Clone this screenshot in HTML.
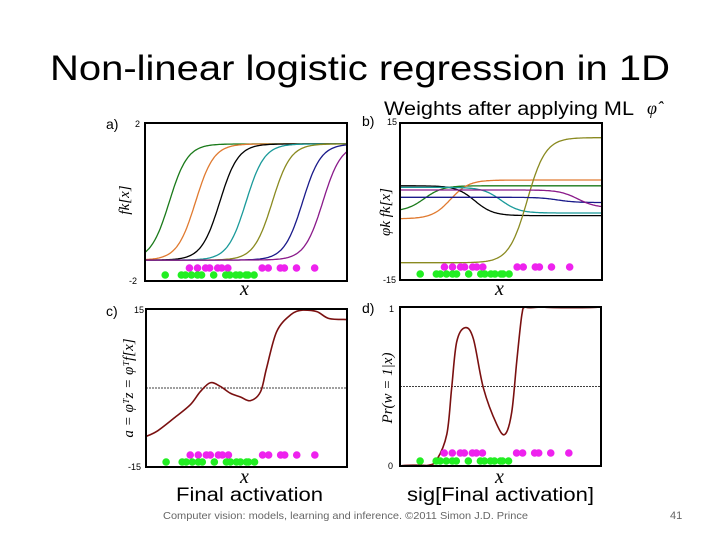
<!DOCTYPE html>
<html><head><meta charset="utf-8">
<style>
body{margin:0;background:#fff;}
svg{display:block;}
.t{font-family:"Liberation Sans",sans-serif;}
.m{font-family:"Liberation Serif",serif;font-style:italic;}
</style></head>
<body>
<svg id="s" width="720" height="540" viewBox="0 0 720 540" xmlns="http://www.w3.org/2000/svg">
<text class="t" x="360" y="80" font-size="35" text-anchor="middle" textLength="620" lengthAdjust="spacingAndGlyphs">Non-linear logistic regression in 1D</text>
<text class="t" x="384" y="115" font-size="19" textLength="250" lengthAdjust="spacingAndGlyphs">Weights after applying ML</text>
<text class="m" x="647" y="114" font-size="18">φ̂</text>
<text class="t" x="176" y="501" font-size="19" textLength="147" lengthAdjust="spacingAndGlyphs">Final activation</text>
<text class="t" x="407" y="501" font-size="19" textLength="187" lengthAdjust="spacingAndGlyphs">sig[Final activation]</text>
<text class="t" x="163" y="519" font-size="10.5" fill="#666" textLength="365" lengthAdjust="spacingAndGlyphs">Computer vision: models, learning and inference. ©2011 Simon J.D. Prince</text>
<text class="t" x="670" y="519" font-size="11" fill="#666">41</text>
<g id="plots"></g>
</svg>
<script>
// data points (x in 0..1 units)
const magentaX=[0.22,0.26,0.30,0.32,0.36,0.38,0.41,0.58,0.61,0.67,0.69,0.75,0.84];
const greenX=[0.10,0.18,0.20,0.23,0.26,0.28,0.34,0.40,0.42,0.45,0.47,0.50,0.51,0.54];
// panel a: basis function centers and colors
const basisCenters=[0.12,0.25,0.37,0.50,0.63,0.78,0.88];
const basisColors=['#1a7a1a','#e07a30','#000000','#1a9a9a','#8a8a20','#1a1a8a','#8a1a8a'];
// panel b: weighted basis (left value, right value, center)
const bLeft=[-1.9,-3.3,3.0,2.7,-11.7,0.8,2.2];
const bRight=[3.0,4.1,-2.7,-2.2,12.2,-0.2,-1.2];
const bCenters=[0.12,0.25,0.37,0.50,0.63,0.78,0.88];
// panel c: activation
const cX=[0,0.055,0.14,0.22,0.27,0.32,0.37,0.42,0.47,0.52,0.57,0.60,0.65,0.72,0.78,0.85,0.91,1];
const cY=[-9.2,-8.2,-5.7,-3.2,-0.7,1.0,0.3,-1.0,-1.7,-2.4,-0.7,3.8,10.7,13.9,14.8,14.5,13.2,13.0];
// panel d: probability
const dX=[0,0.133,0.183,0.233,0.257,0.282,0.324,0.365,0.415,0.482,0.523,0.556,0.581,0.606,0.623,0.7,1];
const dY=[0,0.003,0.04,0.2,0.49,0.78,0.87,0.8,0.49,0.26,0.2,0.34,0.66,0.95,1,1,1];

const NS='http://www.w3.org/2000/svg';
const root=document.getElementById('plots');
function mk(tag,attrs,parent){const e=document.createElementNS(NS,tag);for(const k in attrs)e.setAttribute(k,attrs[k]);(parent||root).appendChild(e);return e;}
function sig(t){return 1/(1+Math.exp(-t));}
function panel(name,L,T,R,B,ymin,ymax){
  const g=mk('g',{});
  
  
  return {g,sx:v=>L+v*(R-L),sy:v=>B-(v-ymin)/(ymax-ymin)*(B-T),L,T,R,B};
}
function frame(p){const r=mk('rect',{x:p.L,y:p.T,width:p.R-p.L,height:p.B-p.T,fill:'none',stroke:'#000','stroke-width':2},p.g);
  
  }
function line(p,xs,ys,color,w,name){
  let d='';xs.forEach((x,i)=>{d+=(i?'L':'M')+p.sx(x).toFixed(1)+' '+p.sy(ys[i]).toFixed(1);});
  const e=mk('path',{d,fill:'none',stroke:color,'stroke-width':w,'stroke-linejoin':'round'},p.g);
  
  
}
function smooth(p,xs,ys,color,w,name){
  const pts=xs.map((x,i)=>[p.sx(x),p.sy(ys[i])]);
  const cl=y=>Math.max(p.T+1,Math.min(p.B-1,y));
  let d='M'+pts[0][0]+' '+pts[0][1];
  for(let i=0;i<pts.length-1;i++){const p0=pts[Math.max(0,i-1)],p1=pts[i],p2=pts[i+1],p3=pts[Math.min(pts.length-1,i+2)];
    d+='C'+(p1[0]+(p2[0]-p0[0])/6)+' '+cl(p1[1]+(p2[1]-p0[1])/6)+' '+(p2[0]-(p3[0]-p1[0])/6)+' '+cl(p2[1]-(p3[1]-p1[1])/6)+' '+p2[0]+' '+p2[1];}
  const e=mk('path',{d,fill:'none',stroke:color,'stroke-width':w},p.g);
  
  
}
function dots(p,magY,grY){
  magentaX.forEach(x=>{const c=mk('circle',{cx:p.sx(x),cy:magY,r:3.8,fill:'#ee22ee'},p.g);
    
    });
  greenX.forEach(x=>{const c=mk('circle',{cx:p.sx(x),cy:grY,r:3.8,fill:'#22ee22'},p.g);
    
    });
}
function txt(p,s,x,y,cls,size,name,extra){
  const e=mk('text',Object.assign({x,y,'font-size':size,class:cls},extra||{}),p.g);e.textContent=s;
  
  return e;
}
const N=160;const grid=[];for(let i=0;i<=N;i++)grid.push(i/N);
const K=22;

// Panel a
const a=panel('panel-a',145,123,347,281,-2,2);
basisCenters.forEach((c,k)=>line(a,grid,grid.map(x=>-1.47+2.94*sig((x-c)*K)),basisColors[k],1.3,'basis-function'));
dots(a,268,275);frame(a);
txt(a,'a)',106,129,'t',14,'panel-label-a');
txt(a,'2',135,127,'t',9,'y-tick-max');txt(a,'-2',129,284,'t',9,'y-tick-min');
txt(a,'x',240,295,'m',20,'x-axis-label');
txt(a,'fk[x]',0,0,'m',15,'y-axis-label',{transform:'translate(129,200) rotate(-90)','text-anchor':'middle'});

// Panel b
const b=panel('panel-b',400,123,602,280,-15,15);
bCenters.forEach((c,k)=>line(b,grid,grid.map(x=>bLeft[k]+(bRight[k]-bLeft[k])*sig((x-c)*K)),basisColors[k],1.3,'weighted-basis'));
dots(b,267,274);frame(b);
txt(b,'b)',362,126,'t',14,'panel-label-b');
txt(b,'15',387,125,'t',9,'y-tick-max');txt(b,'-15',383,283,'t',9,'y-tick-min');
txt(b,'x',495,295,'m',20,'x-axis-label');
txt(b,'φk fk[x]',0,0,'m',15,'y-axis-label',{transform:'translate(390,212) rotate(-90)','text-anchor':'middle'});

// Panel c
const c=panel('panel-c',146,309,347,467,-15,15);
const z=mk('line',{x1:c.L,x2:c.R,y1:c.sy(0),y2:c.sy(0),stroke:'#000','stroke-width':0.7,'stroke-dasharray':'2,1'},c.g);


smooth(c,cX,cY,'#7a1010',1.6,'activation-curve');
dots(c,455,462);frame(c);
txt(c,'c)',106,316,'t',14,'panel-label-c');
txt(c,'15',134,313,'t',9,'y-tick-max');txt(c,'-15',128,470,'t',9,'y-tick-min');
txt(c,'x',240,483,'m',20,'x-axis-label');
txt(c,'a = φᵀz = φᵀf[x]',0,0,'m',15,'y-axis-label',{transform:'translate(133,388) rotate(-90)','text-anchor':'middle'});

// Panel d
const dd=panel('panel-d',400,307,601,466,0,1);
const h=mk('line',{x1:dd.L,x2:dd.R,y1:dd.sy(0.5),y2:dd.sy(0.5),stroke:'#000','stroke-width':0.7,'stroke-dasharray':'2,1'},dd.g);


smooth(dd,dX,dY,'#7a1010',1.6,'probability-curve');
dots(dd,453,461);frame(dd);
txt(dd,'d)',362,313,'t',14,'panel-label-d');
txt(dd,'1',389,312,'t',9,'y-tick-max');txt(dd,'0',388,469,'t',9,'y-tick-min');
txt(dd,'x',495,483,'m',20,'x-axis-label');
txt(dd,'Pr(w = 1|x)',0,0,'m',15,'y-axis-label',{transform:'translate(392,388) rotate(-90)','text-anchor':'middle'});
</script>
</body></html>
